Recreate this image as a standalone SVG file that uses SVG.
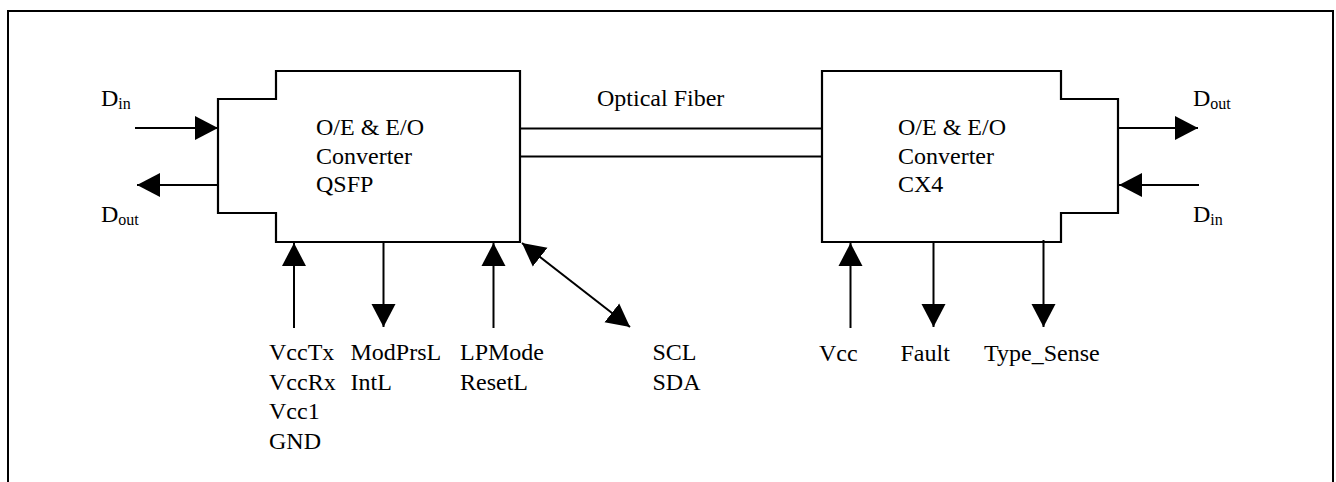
<svg xmlns="http://www.w3.org/2000/svg" width="1336" height="482" viewBox="0 0 1336 482">
<style>
text{font-family:"Liberation Serif","Times New Roman",serif;font-size:24px;fill:#000}
.sub{font-size:16px}
.ln{stroke:#000;stroke-width:2;fill:none}
.blk{stroke:#000;stroke-width:2.2;fill:#fff}
</style>
<defs>
<marker id="ah" markerUnits="userSpaceOnUse" markerWidth="24" markerHeight="26" viewBox="0 -13 24 26" refX="23" refY="0" orient="auto-start-reverse">
<path d="M0,-12 L23,0 L0,12 Z" fill="#000"/>
</marker>
</defs>
<rect width="1336" height="482" fill="#fff"/>
<path class="ln" d="M8,482 V11 H1333 V482" stroke-width="2.4"/>
<g id="qsfp">
<path class="blk" d="M276,71 H520 V242 H276 V213 H218 V99 H276 Z"/>
<text x="316" y="135">O/E &amp; E/O</text>
<text x="316" y="163.5">Converter</text>
<text x="316" y="192">QSFP</text>
</g>
<g id="cx4">
<path class="blk" d="M822,71 H1061 V99 H1118 V213 H1061 V242 H822 Z"/>
<text x="898" y="135">O/E &amp; E/O</text>
<text x="898" y="163.5">Converter</text>
<text x="898" y="192">CX4</text>
</g>
<g id="connectors">
<line class="ln" x1="135" y1="128" x2="218" y2="128" marker-end="url(#ah)"/>
<line class="ln" x1="218" y1="185" x2="137" y2="185" marker-end="url(#ah)"/>
<line class="ln" x1="520" y1="128.5" x2="822" y2="128.5"/>
<line class="ln" x1="520" y1="156.5" x2="822" y2="156.5"/>
<line class="ln" x1="1118" y1="128" x2="1198" y2="128" marker-end="url(#ah)"/>
<line class="ln" x1="1199" y1="185" x2="1119" y2="185" marker-end="url(#ah)"/>
<line class="ln" x1="294" y1="328" x2="294" y2="243" marker-end="url(#ah)"/>
<line class="ln" x1="383.5" y1="242" x2="383.5" y2="327" marker-end="url(#ah)"/>
<line class="ln" x1="493.5" y1="328" x2="493.5" y2="243" marker-end="url(#ah)"/>
<line class="ln" x1="522" y1="243" x2="630" y2="327" marker-start="url(#ah)" marker-end="url(#ah)"/>
<line class="ln" x1="850.5" y1="328" x2="850.5" y2="243" marker-end="url(#ah)"/>
<line class="ln" x1="933.5" y1="242" x2="933.5" y2="327" marker-end="url(#ah)"/>
<line class="ln" x1="1043.5" y1="240" x2="1043.5" y2="327" marker-end="url(#ah)"/>
</g>
<g id="labels">
<text x="101" y="106">D<tspan class="sub" dy="3">in</tspan></text>
<text x="101" y="222">D<tspan class="sub" dy="3">out</tspan></text>
<text x="1193" y="106">D<tspan class="sub" dy="3">out</tspan></text>
<text x="1193" y="222">D<tspan class="sub" dy="3">in</tspan></text>
<text x="597" y="106">Optical Fiber</text>
<text x="269" y="360">VccTx</text>
<text x="269" y="389.5">VccRx</text>
<text x="269" y="419">Vcc1</text>
<text x="269" y="448.5">GND</text>
<text x="350.5" y="360">ModPrsL</text>
<text x="350.5" y="389.5">IntL</text>
<text x="460" y="360">LPMode</text>
<text x="460" y="389.5">ResetL</text>
<text x="652.5" y="360">SCL</text>
<text x="652.5" y="389.5">SDA</text>
<text x="819" y="361">Vcc</text>
<text x="900.5" y="361">Fault</text>
<text x="984" y="361">Type_Sense</text>
</g>
</svg>
